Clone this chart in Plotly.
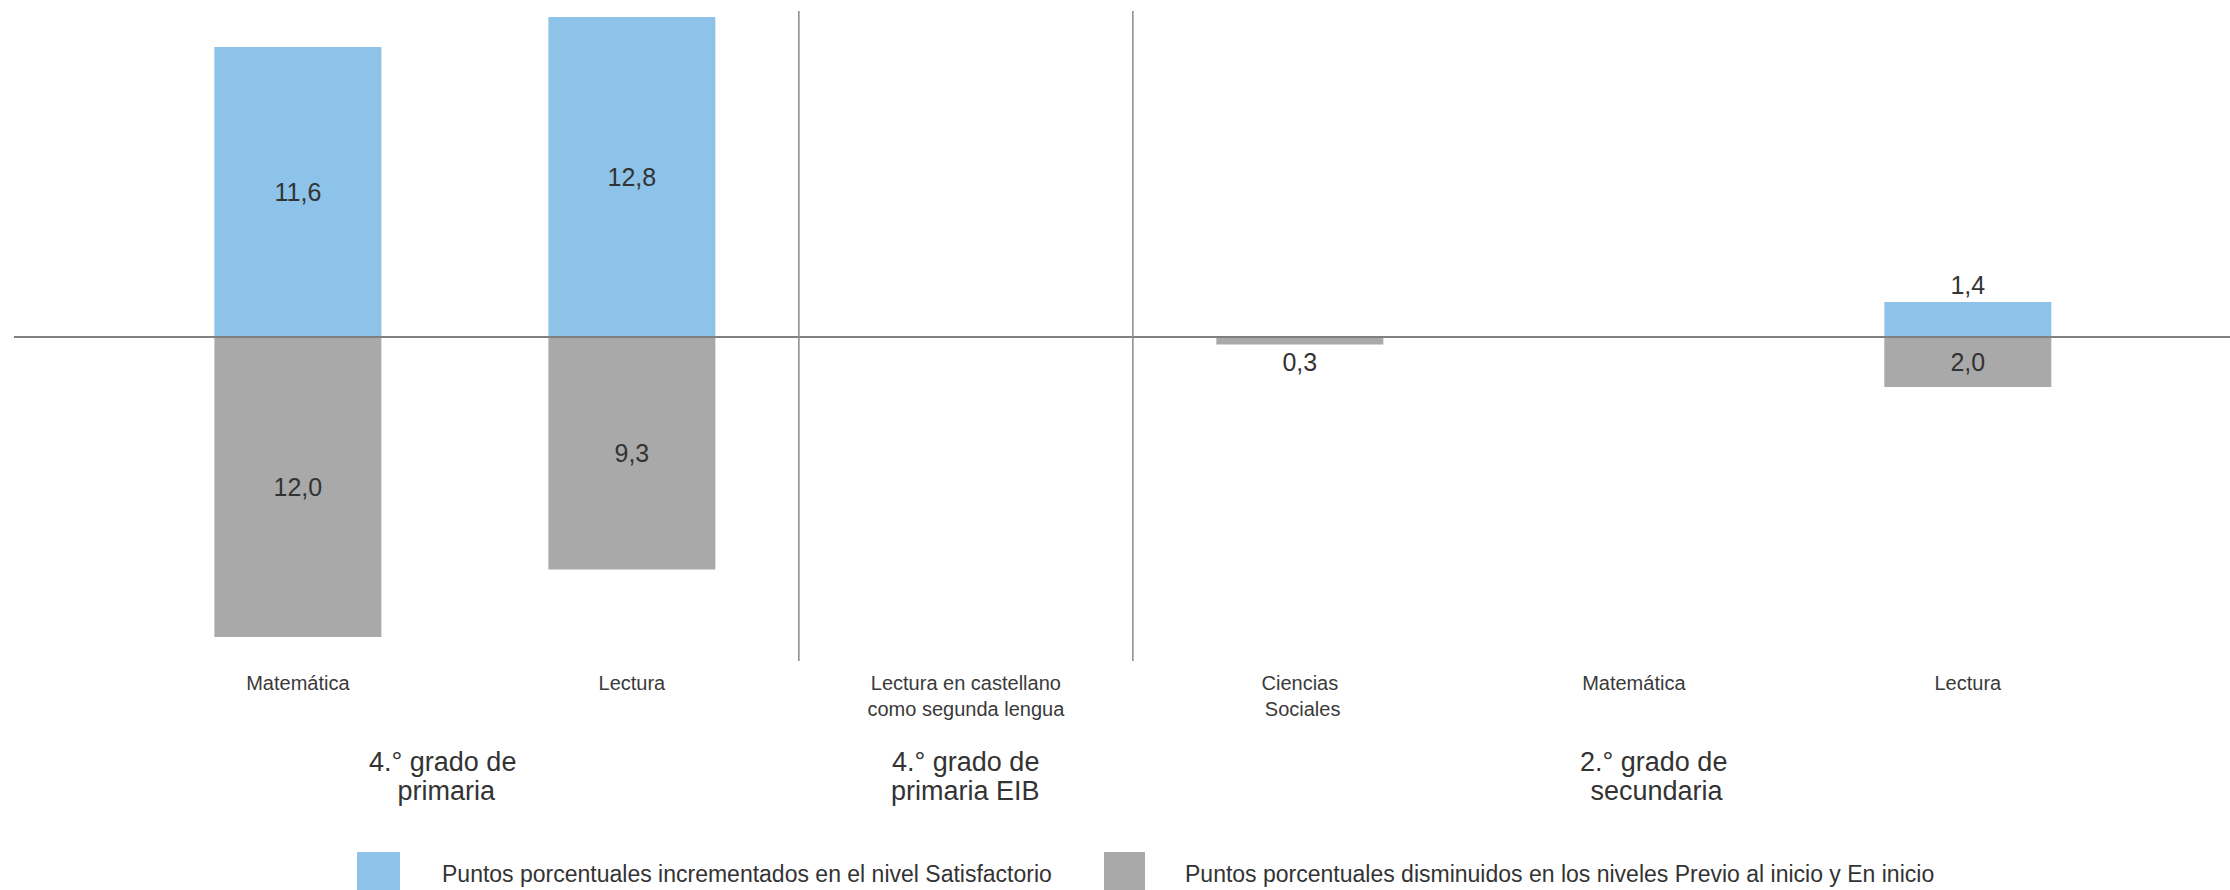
import plotly.graph_objects as go

# ---------------- data ----------------
subjects = ["Matemática", "Lectura", "Lectura en castellano<br>como segunda lengua",
            "Ciencias<br> Sociales", "Matemática", "Lectura"]
group_of_subject = [0, 0, 1, 2, 2, 2]
groups = [["4.° grado de", " primaria"], ["4.° grado de", "primaria EIB"], ["2.° grado de", " secundaria"]]
increase_satisfactorio = [11.6, 12.8, None, None, None, 1.4]
decrease_inicio = [12.0, 9.3, None, 0.3, None, 2.0]
legend_names = ["Puntos porcentuales incrementados en el nivel Satisfactorio",
                "Puntos porcentuales disminuidos en los niveles Previo al inicio y En inicio"]

# ---------------- style ----------------
W, H = 2230, 890
L, R, T, B = 14, 0, 11, 229
BLUE = "#8DC3E8"
GRAY = "#A9A9A9"
TXT = "#333333"
FONT = "Liberation Sans, Arial, sans-serif"


def fmt(v):
    return "" if v is None else f"{v:.1f}".replace(".", ",")


def pos(v):
    if v is None:
        return "none"
    return "inside" if v >= 1.5 else "outside"


def px_x(px):
    return (px - L) / (W - L - R)


def px_y(py):
    return (H - B - py) / (H - T - B)


xs = list(range(len(subjects)))

fig = go.Figure()
fig.add_trace(go.Bar(
    x=xs, y=increase_satisfactorio, name=legend_names[0],
    marker=dict(color=BLUE, line=dict(width=0)), width=0.5,
    text=[fmt(v) for v in increase_satisfactorio],
    textposition=[pos(v) for v in increase_satisfactorio],
    insidetextanchor="middle",
    textfont=dict(size=25, color=TXT, family=FONT),
    cliponaxis=False, showlegend=False,
))
fig.add_trace(go.Bar(
    x=xs, y=[None if v is None else -v for v in decrease_inicio], name=legend_names[1],
    marker=dict(color=GRAY, line=dict(width=0)), width=0.5,
    text=[fmt(v) for v in decrease_inicio],
    textposition=[pos(v) for v in decrease_inicio],
    insidetextanchor="middle",
    textfont=dict(size=25, color=TXT, family=FONT),
    cliponaxis=False, showlegend=False,
))

shapes = []
# zero line
shapes.append(dict(type="line", xref="paper", yref="y", x0=0, x1=1, y0=0, y1=0,
                   line=dict(color="#808080", width=2), layer="above"))
# dividers between groups
for i in range(1, len(subjects)):
    if group_of_subject[i] != group_of_subject[i - 1]:
        shapes.append(dict(type="line", xref="x", yref="paper", x0=i - 0.5, x1=i - 0.5,
                           y0=0, y1=1, line=dict(color="#8a8a8a", width=1.5), layer="above"))

annotations = []
# group labels
group_shift = [-22, 0, 20]
for g, lines in enumerate(groups):
    members = [i for i, gg in enumerate(group_of_subject) if gg == g]
    cx = sum(members) / len(members)
    for k, line in enumerate(lines):
        annotations.append(dict(x=cx, xref="x", y=px_y(762 + 29 * k), yref="paper",
                                text=line, showarrow=False, xanchor="center", yanchor="middle",
                                xshift=group_shift[g],
                                font=dict(size=27, color=TXT, family=FONT)))

# legend (manual, large swatches)
legend_items = [(357, 400, 440, BLUE), (1104, 1145, 1183, GRAY)]
for (sx0, sx1, tx, col), name in zip(legend_items, legend_names):
    shapes.append(dict(type="rect", xref="paper", yref="paper",
                       x0=px_x(sx0), x1=px_x(sx1), y0=px_y(852), y1=px_y(895),
                       fillcolor=col, line=dict(width=0)))
    annotations.append(dict(x=px_x(tx), xref="paper", y=px_y(874), yref="paper",
                            text=name, showarrow=False, xanchor="left", yanchor="middle",
                            font=dict(size=23, color=TXT, family=FONT)))

fig.update_layout(
    width=W, height=H,
    margin=dict(l=L, r=R, t=T, b=B, pad=0),
    paper_bgcolor="white", plot_bgcolor="white",
    barmode="relative",
    font=dict(family=FONT, color=TXT),
    shapes=shapes, annotations=annotations,
    showlegend=False,
    xaxis=dict(range=[-0.85, 5.785], tickmode="array", tickvals=xs, ticktext=subjects,
               showgrid=False, zeroline=False, showline=False, ticks="",
               ticklabelstandoff=8,
               tickfont=dict(size=20, color="#3a3a3a", family=FONT)),
    yaxis=dict(range=[-12.96, 13.04], showgrid=False, zeroline=False, showline=False,
               showticklabels=False, ticks=""),
)

fig.write_html("out.html", config={"displayModeBar": False},
               post_script="document.body.style.margin='0';document.body.style.overflow='hidden';")
